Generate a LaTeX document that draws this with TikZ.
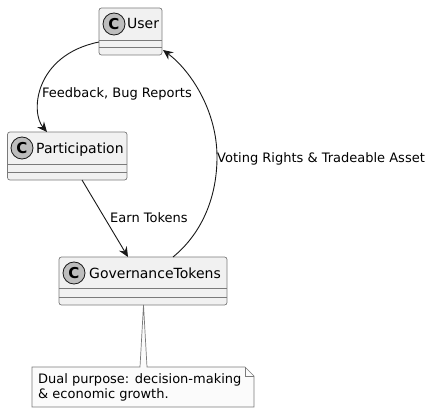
\documentclass[tikz,border=0pt]{standalone}
\usepackage{fontspec}
\setmainfont{DejaVu Sans}
\usetikzlibrary{arrows.meta}
\definecolor{boxfill}{HTML}{F1F1F1}
\definecolor{boxline}{HTML}{7A7A7A}
\definecolor{arrline}{HTML}{181818}
\definecolor{circfill}{HTML}{BDBDBD}
\definecolor{notefill}{HTML}{FBFBFB}
\tikzset{
  classbox/.style={draw=boxline, line width=0.7pt, fill=boxfill, rounded corners=2.5pt, inner sep=0pt},
  sepline/.style={draw=boxline, line width=0.7pt},
  circ/.style={circle, draw=arrline, line width=0.8pt, fill=circfill, minimum size=22pt, inner sep=0pt, font=\fontsize{15}{15}\selectfont\bfseries},
  cname/.style={anchor=base west, inner sep=0pt, font=\fontsize{14}{16}\selectfont},
  lbl/.style={anchor=base west, inner sep=0pt, font=\fontsize{13}{15}\selectfont},
  conn/.style={draw=arrline, line width=0.9pt, -{Stealth[length=10pt, width=9pt, inset=3.5pt]}},
  notebox/.style={draw=boxline, line width=0.7pt, fill=notefill, line join=miter},
}
\begin{document}
\begin{tikzpicture}[x=1pt, y=-1pt]
\useasboundingbox (0,0) rectangle (434,412);
% User
\node[classbox, minimum width=63pt, minimum height=47pt] (user) at (130.5,31.5) {};
\draw[sepline] (99,40) -- (162,40) (99,47) -- (162,47);
\node[circ] (userc) at (114,24) {C};
\node[cname] (usert) at (127,29) {User};
% Participation
\node[classbox, minimum width=119.5pt, minimum height=48pt] (part) at (67.25,156) {};
\draw[sepline] (7.5,164) -- (127,164) (7.5,172) -- (127,172);
\node[circ] (partc) at (22,148) {C};
\node[cname] (partt) at (36,153) {Participation};
% GovernanceTokens
\node[classbox, minimum width=168pt, minimum height=48pt] (gov) at (143,281) {};
\draw[sepline] (59,288) -- (227,288) (59,297) -- (227,297);
\node[circ] (govc) at (74,273) {C};
\node[cname] (govt) at (89,278) {GovernanceTokens};
% Note
\coordinate (ntip) at (143.5,305);
\path[notebox] (32,367) -- (140,367) -- (ntip) -- (147,367) -- (245,367) -- (254,376) -- (254,407) -- (32,407) -- cycle;
\draw[notebox, fill=none] (245,367) -- (245,376) -- (254,376);
\node[lbl] (n1) at (38,383) {Dual purpose: decision-making};
\node[lbl] (n2) at (38,398) {\& economic growth.};
% Connectors
\coordinate (a1) at (99,42);
\coordinate (a2) at (47,132);
\draw[conn] (a1) .. controls (35,55) and (30,112) .. (a2);
\node[lbl] (l1) at (42,98) {Feedback, Bug Reports};
\coordinate (b1) at (82,180);
\coordinate (b2) at (128,257);
\draw[conn] (b1) -- (b2);
\node[lbl] (l2) at (110,222) {Earn Tokens};
\coordinate (c1) at (173,257);
\coordinate (cm) at (217,157);
\coordinate (c2) at (163,50);
\draw[conn] (c1) .. controls (200,235) and (217,200) .. (cm) .. controls (217,110) and (190,70) .. (c2);
\node[lbl] (l3) at (217,162) {Voting Rights \& Tradeable Asset};
\end{tikzpicture}
\end{document}
